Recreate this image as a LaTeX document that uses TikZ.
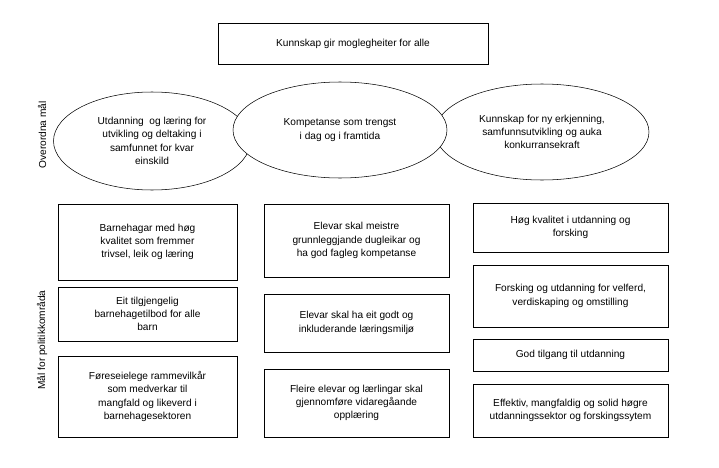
\documentclass[tikz,border=0pt]{standalone}
\usepackage{fontspec}
\setmainfont{Liberation Sans}
\usetikzlibrary{shapes.geometric}
\begin{document}
\begin{tikzpicture}[x=0.75pt,y=-0.75pt,
  bx/.style={draw,thin,fill=white,align=center,font=\fontsize{7.6}{10}\selectfont,inner sep=0pt},
  el/.style={draw,thin,ellipse,fill=white,align=center,font=\fontsize{7.6}{10}\selectfont,inner sep=0pt},
  lab/.style={rotate=90,font=\fontsize{7.6}{10}\selectfont}]
\useasboundingbox (0,0) rectangle (719,468);
\node[bx,minimum width=270*0.75pt,minimum height=41*0.75pt] (top) at (353,43.5) {Kunnskap gir moglegheiter for alle};
\node[el,minimum width=197*0.75pt,minimum height=98*0.75pt] (e1) at (152,141) {Utdanning\ \ og læring for\\utvikling og deltaking i\\samfunnet for kvar\\einskild};
\node[el,minimum width=214*0.75pt,minimum height=96*0.75pt] (e3) at (542,132) {Kunnskap for ny erkjenning,\\samfunnsutvikling og auka\\konkurransekraft};
\node[el,minimum width=214*0.75pt,minimum height=96*0.75pt] (e2) at (340,130) {Kompetanse som trengst\\i dag og i framtida};
\node[lab] (l1) at (42,135) {Overordna mål};
\node[lab] (l2) at (42,340) {Mål for politikkområda};
\node[bx,minimum width=179*0.75pt,minimum height=76*0.75pt] (a1) at (147.5,242) {Barnehagar med høg\\kvalitet som fremmer\\trivsel, leik og læring};
\node[bx,minimum width=179*0.75pt,minimum height=54*0.75pt] (a2) at (147.5,314) {Eit tilgjengelig\\barnehagetilbod for alle\\barn};
\node[bx,minimum width=179*0.75pt,minimum height=81*0.75pt] (a3) at (147.5,396.5) {Føreseielege rammevilkår\\som medverkar til\\mangfald og likeverd i\\barnehagesektoren};
\node[bx,minimum width=185*0.75pt,minimum height=73*0.75pt] (b1) at (356.5,240.5) {Elevar skal meistre\\grunnleggjande dugleikar og\\ha god fagleg kompetanse};
\node[bx,minimum width=185*0.75pt,minimum height=58*0.75pt] (b2) at (356.5,323) {Elevar skal ha eit godt og\\inkluderande læringsmiljø};
\node[bx,minimum width=185*0.75pt,minimum height=68*0.75pt] (b3) at (356.5,403) {Fleire elevar og lærlingar skal\\gjennomføre vidaregåande\\opplæring};
\node[bx,minimum width=195*0.75pt,minimum height=49*0.75pt] (c1) at (570.5,227.5) {Høg kvalitet i utdanning og\\forsking};
\node[bx,minimum width=195*0.75pt,minimum height=62*0.75pt] (c2) at (570.5,296) {Forsking og utdanning for velferd,\\verdiskaping og omstilling};
\node[bx,minimum width=195*0.75pt,minimum height=32*0.75pt] (c3) at (570.5,355) {God tilgang til utdanning};
\node[bx,minimum width=195*0.75pt,minimum height=53*0.75pt] (c4) at (570.5,410.5) {Effektiv, mangfaldig og solid høgre\\utdanningssektor og forskingssytem};
\end{tikzpicture}
\end{document}
